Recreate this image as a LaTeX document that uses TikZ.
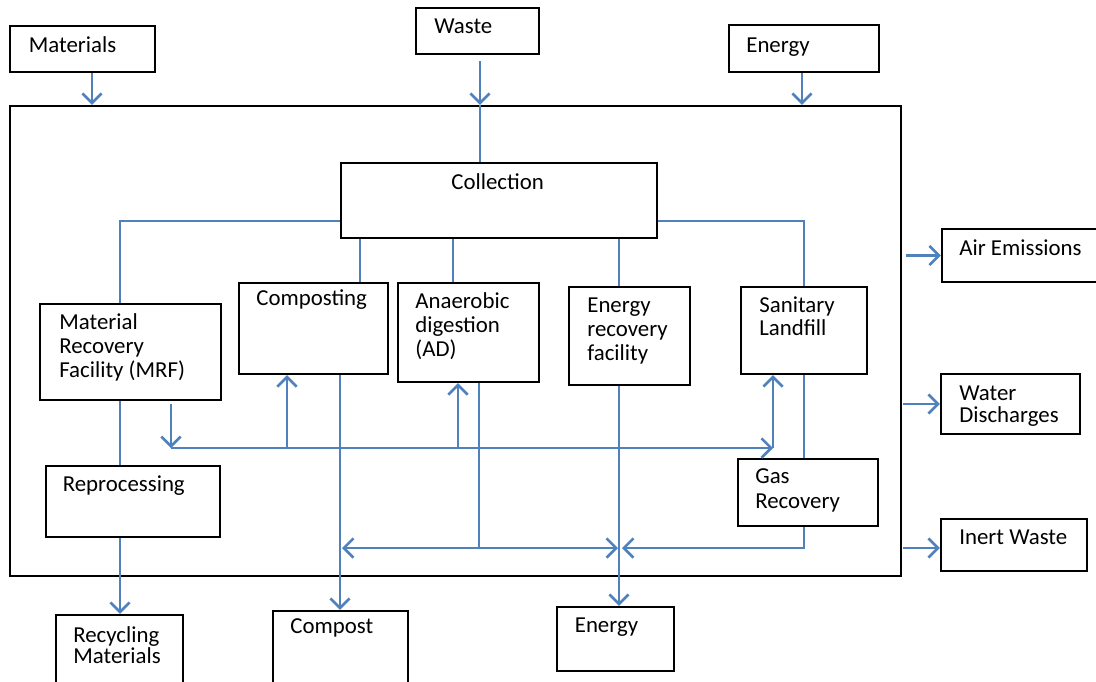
\documentclass[tikz,border=0pt]{standalone}
\usepackage{fontspec}
\setmainfont{Carlito}
\usetikzlibrary{arrows.meta,fit}
\definecolor{flowblue}{RGB}{79,129,189}
\setlength\lineskiplimit{-20pt}
\tikzset{
  panel/.style={draw=black, line width=1.2pt, inner sep=0pt, rectangle},
  % labels are anchored at the baseline of their last line
  lbl/.style={anchor=base west, inner sep=0pt, align=left,
              font=\fontsize{13pt}{#1}\selectfont},
  lbl/.default=13.6pt,
  flow/.style={draw=flowblue, line width=1.3pt},
  arr/.style={flow, -{Straight Barb[length=5.5pt, width=11pt, line width=1.5pt]}}
}
\begin{document}
\begin{tikzpicture}[x=0.02cm, y=-0.02cm]
\useasboundingbox (0,0) rectangle (1096,681);

% outer system boundary
\node[panel, fit={(10,106) (901,576)}] (frame) {};

% inputs
\node[panel, fit={(10,26) (155,72)}] (mat) {};
\node[lbl] (mat-l) at (28.6,52) {Materials};
\node[panel, fit={(416,8) (539,54)}] (waste) {};
\node[lbl] (waste-l) at (434,33) {Waste};
\node[panel, fit={(729,25) (879,72)}] (enin) {};
\node[lbl] (enin-l) at (746,52) {Energy};

% processes
\node[panel, fit={(341,163) (657,238)}] (coll) {};
\node[lbl] (coll-l) at (451,189) {Collection};
\node[panel, fit={(40,304) (221,400)}] (mrf) {};
\node[lbl] (mrf-l) at (59,377) {Material\\Recovery\\Facility (MRF)};
\node[panel, fit={(239,283) (388,374)}] (comp) {};
\node[lbl] (comp-l) at (256,305) {Composting};
\node[panel, fit={(398,283) (539,382)}] (ad) {};
\node[lbl] (ad-l) at (415,356) {Anaerobic\\digestion\\(AD)};
\node[panel, fit={(569,287) (690,385)}] (erf) {};
\node[lbl] (erf-l) at (587,360) {Energy\\recovery\\facility};
\node[panel, fit={(741,287) (867,374)}] (san) {};
\node[lbl=13.0pt] (san-l) at (759,335) {Sanitary\\Landfill};
\node[panel, fit={(738,459) (878,526)}] (gas) {};
\node[lbl=14.2pt] (gas-l) at (755,508) {Gas\\Recovery};
\node[panel, fit={(46,466) (220,537)}] (rep) {};
\node[lbl] (rep-l) at (62.5,491) {Reprocessing};

% outputs
\node[panel, fit={(56,615) (183,690)}] (rec) {};
\node[lbl=11.9pt] (rec-l) at (73,663) {Recycling\\Materials};
\node[panel, fit={(273,611) (408,690)}] (cmp) {};
\node[lbl] (cmp-l) at (290,633) {Compost};
\node[panel, fit={(557,607) (674,671)}] (eout) {};
\node[lbl] (eout-l) at (574.5,632) {Energy};
\node[panel, fit={(942,229) (1110,282)}] (air) {};
\node[lbl] (air-l) at (959,255) {Air Emissions};
\node[panel, fit={(941,374) (1080,434)}] (water) {};
\node[lbl=12.5pt] (water-l) at (959,422) {Water\\Discharges};
\node[panel, fit={(941,519) (1087,571)}] (inert) {};
\node[lbl] (inert-l) at (959,544) {Inert Waste};

% rails and junctions
\coordinate (xM) at (92,0);
\coordinate (xW) at (480,0);
\coordinate (xE) at (802,0);
\coordinate (rL) at (120,221);
\coordinate (rR) at (804,221);
\coordinate (xC) at (360,0);
\coordinate (xA) at (453,0);
\coordinate (xF) at (619,0);
\coordinate (busL) at (171,448);
\coordinate (busR) at (773,448);
\coordinate (xCu) at (287,0);
\coordinate (xAu) at (458,0);
\coordinate (xCd) at (340,0);
\coordinate (lb) at (479,548);
\coordinate (lbL) at (342,548);
\coordinate (lbR) at (618,548);
\coordinate (gl) at (622,548);
\coordinate (yI) at (0,548);

% inputs into the system
\draw[arr] (mat.south -| xM) -- (frame.north -| xM);
\draw[arr] ([yshift=-3.4pt]waste.south -| xW) -- (frame.north -| xW);
\draw[flow] (frame.north -| xW) -- (coll.north -| xW);
\draw[arr] (enin.south -| xE) -- (frame.north -| xE);

% collection to the treatment routes
\draw[flow] (coll.west |- rL) -- (rL) -- (mrf.north -| rL);
\draw[flow] (coll.east |- rR) -- (rR) -- (san.north -| rR);
\draw[flow] (coll.south -| xC) -- (comp.north -| xC);
\draw[flow] (coll.south -| xA) -- (ad.north -| xA);
\draw[flow] (coll.south -| xF) -- (erf.north -| xF);

% MRF residues
\draw[flow] (mrf.south -| rL) -- (rep.north -| rL);
\draw[arr] (rep.south -| rL) -- (rec.north -| rL);
\draw[arr] ([yshift=-1.7pt]mrf.south -| busL) -- (busL);
\draw[arr] (busL) -- (busR);
\draw[arr] (busR) -- (san.south -| busR);
\draw[arr] (busL -| xCu) -- (comp.south -| xCu);
\draw[arr] (busL -| xAu) -- (ad.south -| xAu);

% products
\draw[arr] (comp.south -| xCd) -- (cmp.north -| xCd);
\draw[flow] (ad.south -| lb) -- (lb);
\draw[arr] (lb) -- (lbL);
\draw[arr] (lb) -- (lbR);
\draw[arr] (erf.south -| xF) -- (eout.north -| xF);
\draw[flow] (san.south -| rR) -- (gas.north -| rR);
\draw[arr] (gas.south -| rR) |- (gl);

% emissions leaving the system
\draw[arr] ([xshift=2.2pt]frame.east |- air.west) -- (air.west);
\draw[arr] ([xshift=0.6pt]frame.east |- water.west) -- (water.west);
\draw[arr] ([xshift=0.6pt]frame.east |- yI) -- (inert.west |- yI);
\end{tikzpicture}
\end{document}
